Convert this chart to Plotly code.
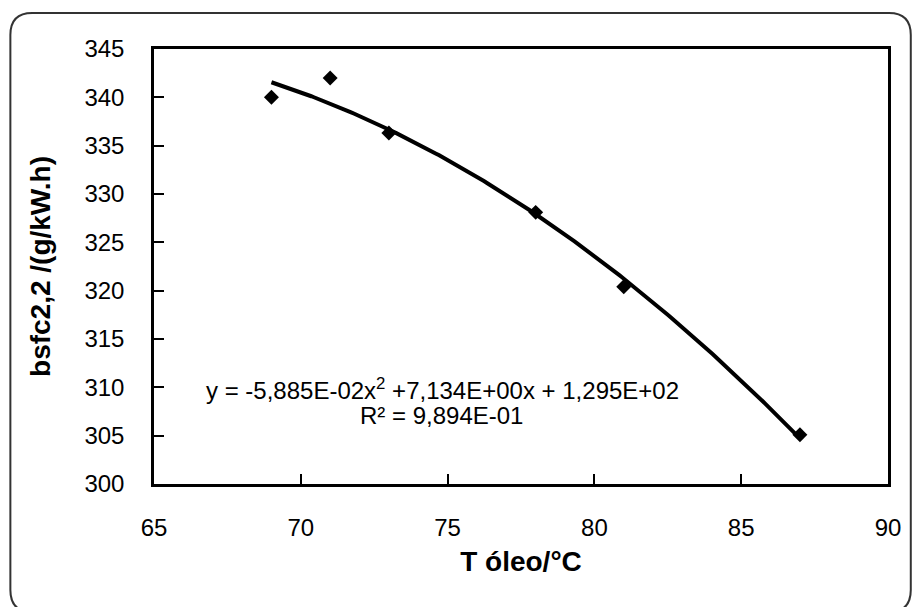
import numpy as np
import plotly.graph_objects as go

# Data
t_oleo = [69, 71, 73, 78, 81, 87]
bsfc = [340.0, 342.0, 336.3, 328.1, 320.4, 305.1]
poly_coeffs = [-5.885e-02, 7.134e+00, 1.295e+02]  # a, b, c of trendline
x_ticks = [65, 70, 75, 80, 85, 90]
y_ticks = [300, 305, 310, 315, 320, 325, 330, 335, 340, 345]
eq_line1 = "y = -5,885E-02x<sup>2</sup> +7,134E+00x + 1,295E+02"
eq_line2 = "R² = 9,894E-01"

W, H = 913, 607
L, R, T, B = 154, 18, 49, 123
pw, ph = W - L - R, H - T - B

def px(x):
    return (x - L) / pw

def py(y):
    return (H - B - y) / ph

xfit = np.linspace(min(t_oleo), max(t_oleo), 200)
yfit = np.polyval(poly_coeffs, xfit)

fig = go.Figure()
fig.add_trace(go.Scatter(x=xfit, y=yfit, mode="lines",
                         line=dict(color="black", width=4), showlegend=False))
fig.add_trace(go.Scatter(x=t_oleo, y=bsfc, mode="markers",
                         marker=dict(symbol="diamond", color="black", size=11.5),
                         showlegend=False))

# rounded outer frame (pixel coords converted to paper)
x0, y0, x1, y1, r = 9, 13, 918, 612, 22
path = (f"M {px(x0 + r)},{py(y0)} L {px(x1 - r)},{py(y0)} "
        f"Q {px(x1)},{py(y0)} {px(x1)},{py(y0 + r)} "
        f"L {px(x1)},{py(y1 - r)} Q {px(x1)},{py(y1)} {px(x1 - r)},{py(y1)} "
        f"L {px(x0 + r)},{py(y1)} Q {px(x0)},{py(y1)} {px(x0)},{py(y1 - r)} "
        f"L {px(x0)},{py(y0 + r)} Q {px(x0)},{py(y0)} {px(x0 + r)},{py(y0)} Z")
fig.add_shape(type="path", path=path, xref="paper", yref="paper",
              line=dict(color="#333333", width=2), layer="below")

font = "Arial, Liberation Sans"
fig.add_annotation(x=px(445), y=py(389), xref="paper", yref="paper",
                   text=eq_line1, showarrow=False, xanchor="center", yanchor="middle",
                   font=dict(family=font, size=24, color="black"))
fig.add_annotation(x=px(444), y=py(415), xref="paper", yref="paper",
                   text=eq_line2, showarrow=False, xanchor="center", yanchor="middle",
                   font=dict(family=font, size=24, color="black"))

fig.update_layout(
    width=W, height=H,
    margin=dict(l=L, r=R, t=T, b=B),
    paper_bgcolor="white", plot_bgcolor="white",
    font=dict(family=font, color="black"),
    xaxis=dict(range=[65, 90], tickvals=x_ticks, ticks="inside", ticklen=10, tickwidth=1.5,
               tickcolor="black", showline=True, linecolor="black", linewidth=2.5, mirror=True,
               showgrid=False, zeroline=False, tickfont=dict(size=24, family=font),
               ticklabelstandoff=20,
               title=dict(text="<b>T óleo/°C</b>", font=dict(size=28, family=font), standoff=12)),
    yaxis=dict(range=[300, 345], tickvals=y_ticks, ticks="inside", ticklen=10, tickwidth=1.5,
               tickcolor="black", showline=True, linecolor="black", linewidth=2.5, mirror=True,
               showgrid=False, zeroline=False, tickfont=dict(size=24, family=font),
               ticklabelstandoff=22,
               title=dict(text="<b>bsfc2,2 /(g/kW.h)</b>", font=dict(size=28, family=font), standoff=26)),
)

fig.write_html("out.html")
